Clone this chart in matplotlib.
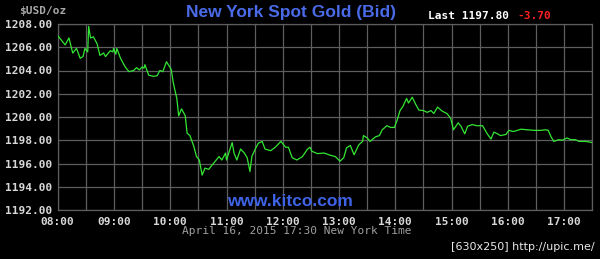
import matplotlib
matplotlib.use("Agg")
import matplotlib.pyplot as plt
from matplotlib.ticker import FixedLocator, FixedFormatter

# minutes after 08:00 (New York time) and bid price in USD/oz
minutes = [0, 8, 12, 16, 20, 24, 27, 29, 32, 33, 35, 38, 42, 45, 49, 51, 56, 59, 59.5, 62, 63,
           67, 72, 76, 81, 84, 87, 90, 92, 93, 97, 102, 106, 109, 112, 116, 118, 121, 123, 125,
           127, 129, 132, 136, 138, 141, 145, 148, 151, 154, 157, 161, 164, 168, 172, 175, 179,
           180, 186, 188, 191, 195, 199, 202, 205, 207, 211, 214, 218, 221, 227, 232, 238, 243,
           246, 250, 255, 261, 266, 269, 271, 277, 284, 291, 296, 301, 305, 308, 312, 316, 321,
           325, 326, 330, 333, 339, 343, 346, 351, 355, 359, 362, 365, 368, 372, 374, 378, 382,
           385, 390, 394, 398, 401, 405, 410, 415, 419, 422, 427, 430, 434, 437, 442, 447, 453,
           458, 462, 465, 469, 472, 478, 481, 486, 494, 501, 508, 515, 520, 523, 526, 529, 534,
           538, 543, 547, 552, 556, 563, 570]
prices = [1207.0, 1206.2, 1206.8, 1205.5, 1205.9, 1205.05, 1205.2, 1205.9, 1205.6, 1207.8, 1206.8,
          1206.9, 1206.3, 1205.3, 1205.5, 1205.2, 1205.7, 1205.6, 1205.9, 1205.4, 1205.9,
          1205.05, 1204.3, 1203.9, 1204.0, 1204.25, 1204.05, 1204.3, 1204.2, 1204.5, 1203.6,
          1203.5, 1203.55, 1204.0, 1203.9, 1204.75, 1204.5, 1204.1, 1203.05, 1202.3,
          1201.6, 1200.1, 1200.7, 1200.1, 1198.6, 1198.4, 1197.5, 1196.6, 1196.3, 1195.0,
          1195.6, 1195.5, 1195.8, 1196.2, 1196.6, 1196.3, 1196.9, 1196.3, 1197.8, 1196.9,
          1196.3, 1197.25, 1196.9, 1196.5, 1195.3, 1196.6, 1197.3, 1197.75, 1197.9, 1197.25,
          1197.1, 1197.4, 1197.9, 1197.4, 1197.4, 1196.5, 1196.3, 1196.6, 1197.2, 1197.4,
          1197.05, 1196.85, 1196.9, 1196.7, 1196.6, 1196.2, 1196.5, 1197.35, 1197.55, 1196.75,
          1197.6, 1197.9, 1198.4, 1198.2, 1197.9, 1198.3, 1198.4, 1198.9, 1199.25, 1199.1,
          1199.1, 1199.75, 1200.55, 1200.9, 1201.6, 1201.2, 1201.7, 1201.05, 1200.6, 1200.55,
          1200.4, 1200.55, 1200.3, 1200.85, 1200.5, 1200.3, 1199.9, 1198.9, 1199.5, 1199.2,
          1198.55, 1199.2, 1199.35, 1199.25, 1199.25, 1198.55, 1198.1, 1198.7, 1198.55,
          1198.4, 1198.5, 1198.85, 1198.75, 1198.95, 1198.9, 1198.85, 1198.85, 1198.9,
          1198.85, 1198.3, 1197.9, 1198.05, 1198.0, 1198.2, 1198.05, 1198.05, 1197.9, 1197.9,
          1197.8]

hour_labels = ["08:00", "09:00", "10:00", "11:00", "12:00", "13:00", "14:00", "15:00",
               "16:00", "17:00"]
price_ticks = [1192, 1194, 1196, 1198, 1200, 1202, 1204, 1206, 1208]

title = "New York Spot Gold (Bid)"
last_text = "Last 1197.80"
change_text = "-3.70"
date_text = "April 16, 2015 17:30 New York Time"

fig = plt.figure(figsize=(6.0, 2.59), dpi=100, facecolor="black")
ax = fig.add_axes([57.7 / 600, 1 - 210 / 259, (592.3 - 57.7) / 600, (210 - 24) / 259])
ax.set_facecolor("black")

ax.plot(minutes, prices, color="#33e633", lw=0.9, zorder=3)

ax.set_xlim(0, 570)
ax.set_ylim(1192, 1208)
ax.xaxis.set_major_locator(FixedLocator([60 * i for i in range(len(hour_labels))]))
ax.xaxis.set_major_formatter(FixedFormatter(hour_labels))
ax.xaxis.set_minor_locator(FixedLocator([30 + 60 * i for i in range(len(hour_labels))]))
ax.set_yticks(price_ticks)
ax.set_yticklabels([f"{v:.2f}" for v in price_ticks])

mono = {"family": "DejaVu Sans Mono", "weight": "bold", "size": 8}
for lab in ax.get_xticklabels() + ax.get_yticklabels():
    lab.set_fontfamily("DejaVu Sans Mono")
    lab.set_fontweight("bold")
    lab.set_fontsize(8)
ax.tick_params(axis="both", which="both", length=0, colors="#d8d8d8")
ax.tick_params(axis="x", pad=5)
ax.tick_params(axis="y", pad=4)

ax.grid(True, which="both", color="#5e5e5e", lw=0.9, zorder=1)
for s in ax.spines.values():
    s.set_color("#5e5e5e")
    s.set_linewidth(0.9)

fig.text(19 / 600, 1 - 11 / 259, "$USD/oz", color="#a8a8a8", fontdict=mono, ha="left", va="center")
fig.text(291 / 600, 1 - 12 / 259, title, color="#4a6ae8", family="Liberation Sans",
         weight="bold", fontsize=12.5, ha="center", va="center")
fig.text(428 / 600, 1 - 16 / 259, last_text, color="white", fontdict=mono, ha="left", va="center")
fig.text(517 / 600, 1 - 16 / 259, change_text, color="#ff2020", fontdict=mono, ha="left", va="center")
fig.text(297 / 600, 1 - 231.5 / 259, date_text, color="#a0a0a0", family="DejaVu Sans Mono",
         fontsize=8, ha="center", va="center")
fig.text(290 / 600, 1 - 202 / 259, "www.kitco.com", color="#3f63e6", family="Liberation Sans",
         weight="bold", fontsize=12.5, ha="center", va="center")
fig.text(595 / 600, 1 - 247.5 / 259, "[630x250] http://upic.me/", color="#e8e8e8",
         family="DejaVu Sans", fontsize=8, ha="right", va="center")

fig.savefig("out.png", dpi=100, facecolor="black")
